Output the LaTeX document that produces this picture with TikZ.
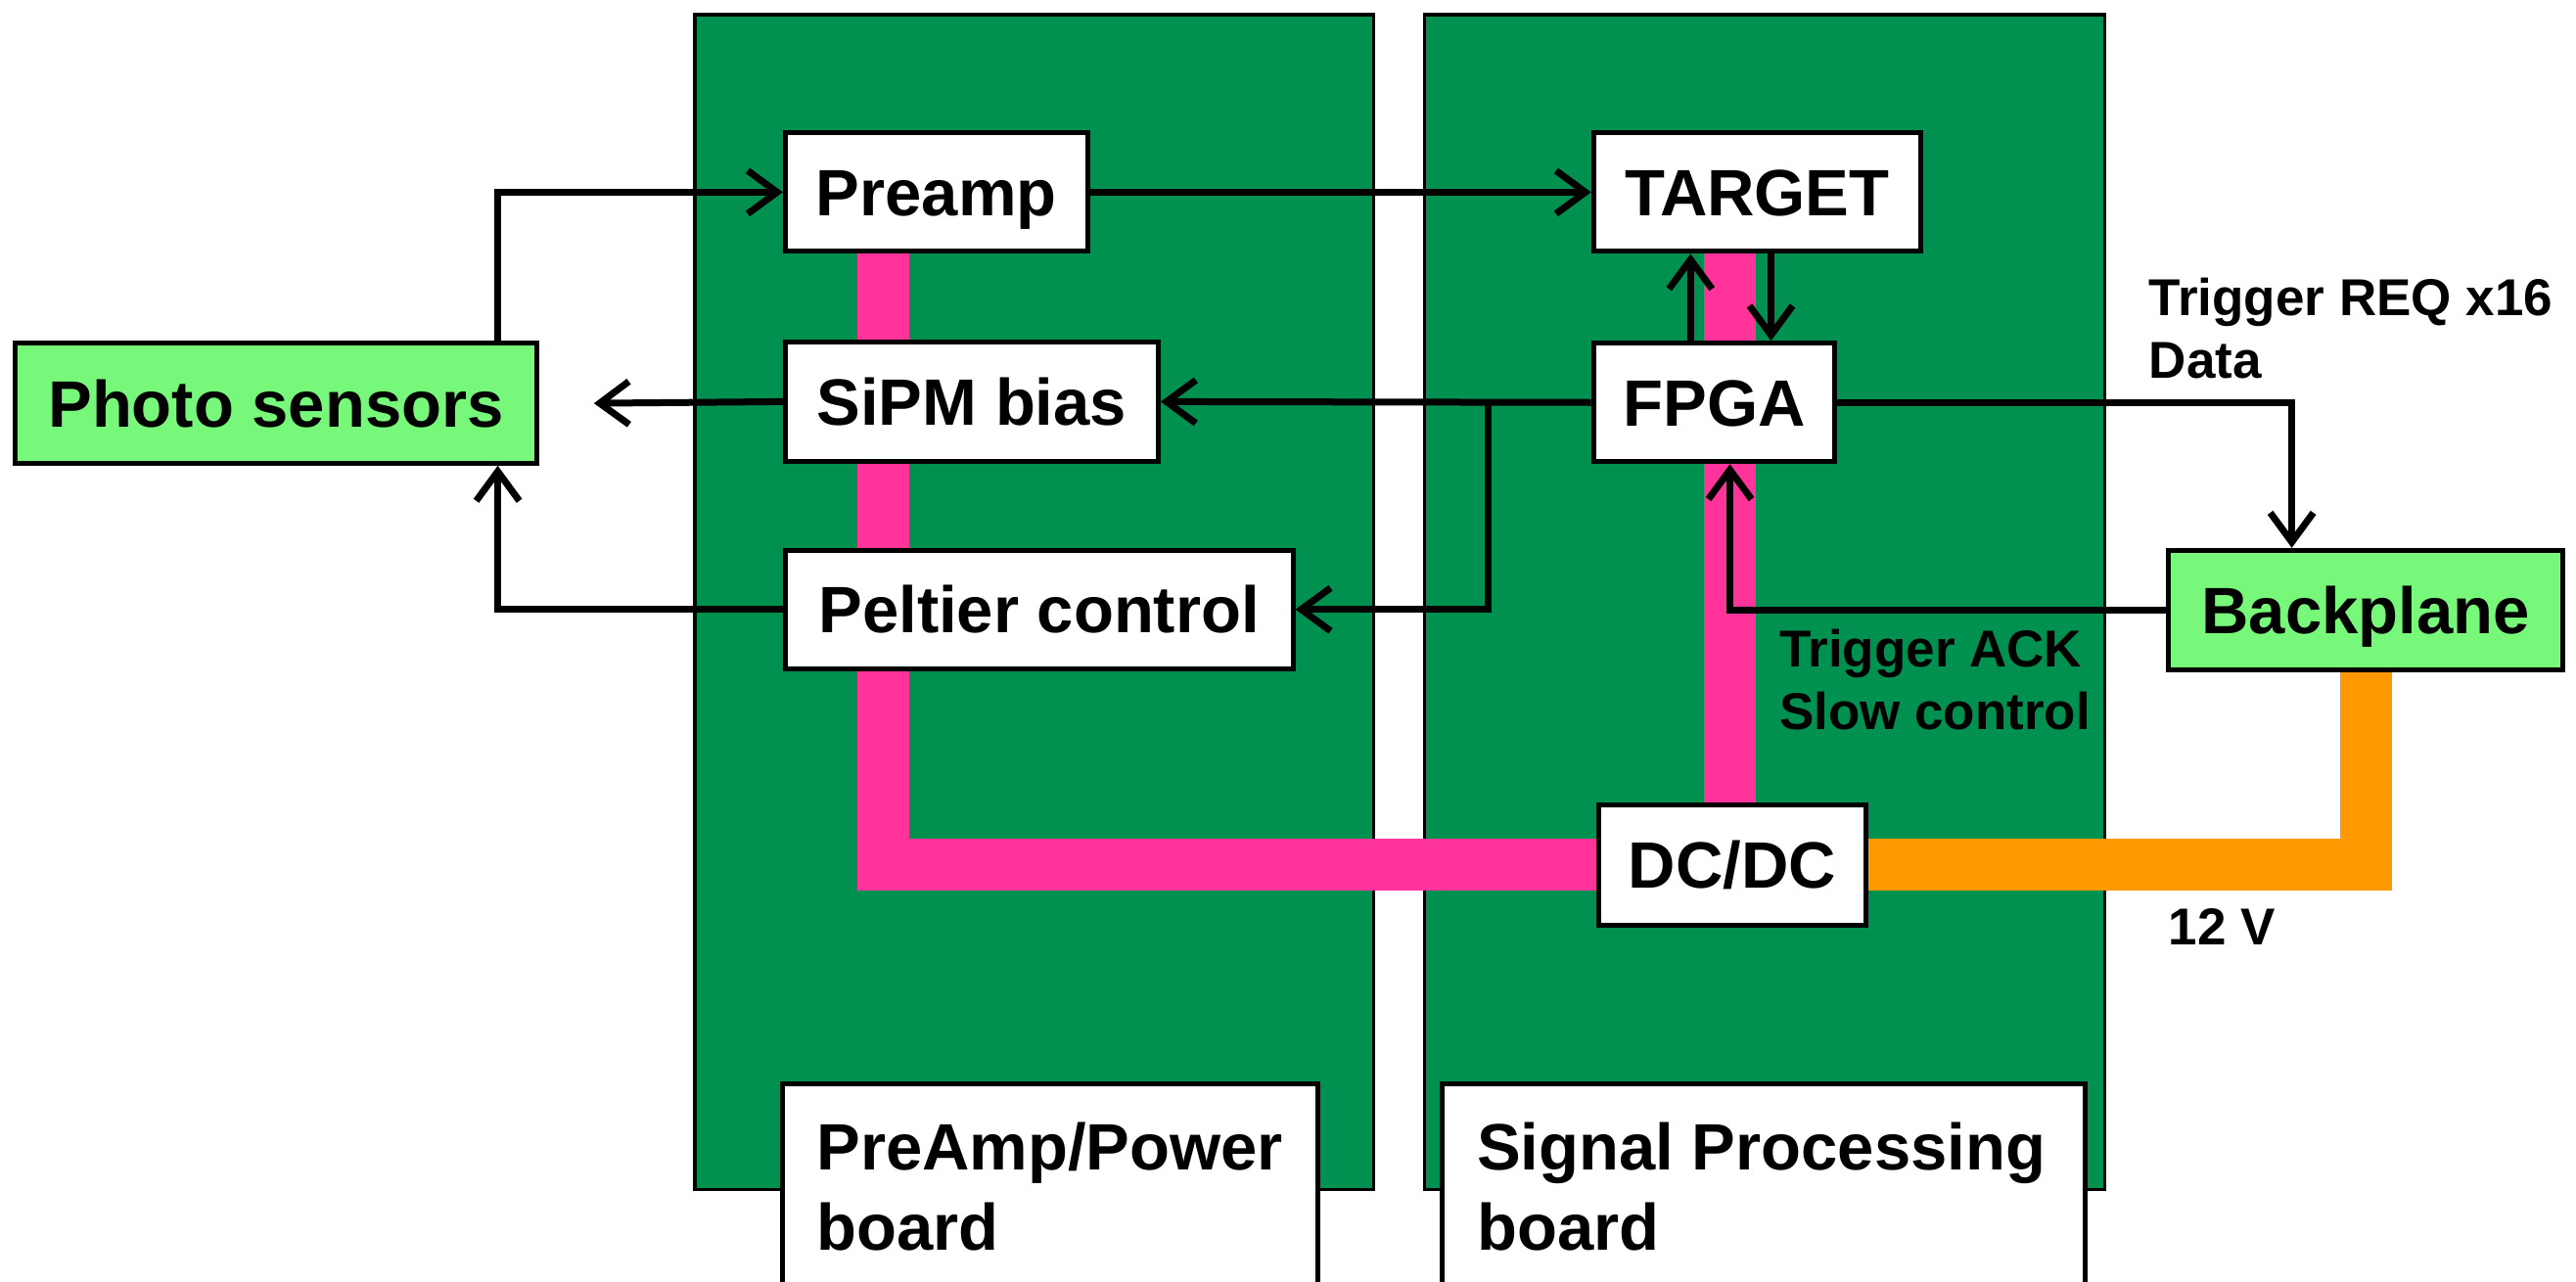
\documentclass[tikz,border=0pt]{standalone}
\usepackage{fontspec}
\setmainfont{Liberation Sans}
\usetikzlibrary{arrows.meta,backgrounds,calc}
\definecolor{boardgreen}{RGB}{0,145,81}
\definecolor{busp}{RGB}{255,51,153}
\definecolor{buso}{RGB}{255,153,0}
\definecolor{sensgreen}{RGB}{120,248,122}
\begin{document}
\begin{tikzpicture}[x=1.6786pt,y=-1.6786pt,
  blk/.style={draw=black, line width=5pt, fill=white, inner sep=0pt,
    font=\fontsize{67}{80}\selectfont\bfseries, text height=48pt, text depth=0pt},
  sz/.style args={#1/#2}{minimum width=#1*1.6786pt, minimum height=#2*1.6786pt},
  brd/.style={draw=black, line width=3.5pt, fill=boardgreen},
  bus/.style={line width=53pt, line cap=butt, line join=miter},
  conn/.style={draw=black, line width=7pt, -{Straight Barb[length=30pt,width=44pt]}},
  lbl/.style={font=\fontsize{53}{64}\selectfont\bfseries, inner sep=0pt, anchor=base west},
  blbl/.style={font=\fontsize{67}{80}\selectfont\bfseries, inner sep=0pt, anchor=base west}]
\useasboundingbox (0,0) rectangle (1568,780);
\clip (0,0) rectangle (1568,780);

% blocks
\node[blk, fill=sensgreen, sz=318/73] (ps) at (168,245.5) {Photo sensors};
\node[blk, sz=184/72] (preamp) at (570,117) {Preamp};
\node[blk, sz=227/73] (sipm) at (591.5,244.5) {SiPM bias};
\node[blk, sz=309/72] (pelt) at (632.5,371) {Peltier control};
\node[blk, sz=199/72] (target) at (1069.5,117) {TARGET};
\node[blk, sz=147/72] (fpga) at (1043.5,245) {FPGA};
\node[blk, fill=sensgreen, sz=240/73] (bp) at (1440,371.5) {Backplane};
\node[blk, sz=163/73] (dcdc) at (1054.5,526.5) {DC/DC};

% board label boxes
\node[blk, sz=326/140] (lblA) at (639,730) {};
\node[blk, sz=391/140] (lblB) at (1073.5,730) {};
\node[blbl] (lblA1) at (497,712) {PreAmp/Power};
\node[blbl] (lblA2) at (497,761) {board};
\node[blbl] (lblB1) at (899,712) {Signal Processing};
\node[blbl] (lblB2) at (899,761) {board};

% boards and power buses
\begin{scope}[on background layer]
  \draw[brd] (423,9) rectangle (836,724);
  \draw[brd] (867,9) rectangle (1281,724);
  \draw[bus, busp] (537.5,0 |- preamp.south) |- (dcdc.west);
  \draw[bus, busp] (1053,0 |- target.south) -- (1053,0 |- dcdc.north);
  \draw[bus, buso] (dcdc.east) -| (1440,0 |- bp.south);
\end{scope}

% signal connectors
\coordinate (pstop) at (ps.north -| 303,0);
\coordinate (psbot) at (ps.south -| 303,0);
\coordinate (psin) at ($(ps.east)+(33,0)$);
\coordinate (br) at (fpga.west -| 906,0);
\draw[conn] (pstop) |- (preamp.west);
\draw[conn] (preamp.east) -- (target.west);
\draw[conn] (sipm.west) -- (psin);
\draw[conn] (pelt.west) -| (psbot);
\draw[conn] (fpga.west) -- (sipm.east);
\draw[conn] (br) |- (pelt.east);
\draw[conn] (fpga.north -| 1029,0) -- (target.south -| 1029,0);
\draw[conn] (target.south -| 1078,0) -- (fpga.north -| 1078,0);
\draw[conn] (fpga.east) -| (bp.north -| 1395,0);
\draw[conn] (bp.west) -| (fpga.south -| 1053,0);

% labels
\node[lbl] (reqA) at (1308,192) {Trigger REQ x16};
\node[lbl] (reqB) at (1308,230) {Data};
\node[lbl] (ackA) at (1083,406) {Trigger ACK};
\node[lbl] (ackB) at (1083,444) {Slow control};
\node[lbl] (volt) at (1320,575) {12 V};
\end{tikzpicture}
\end{document}
